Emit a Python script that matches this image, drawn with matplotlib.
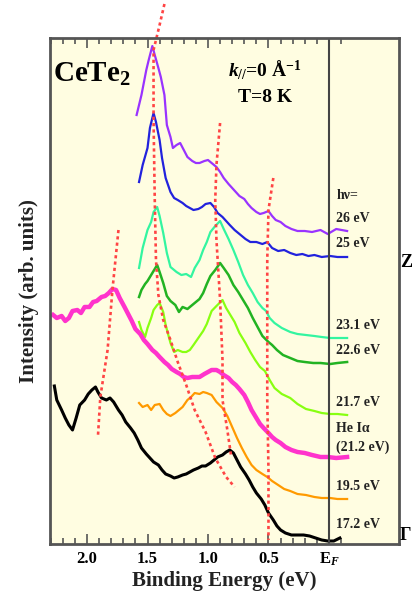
import matplotlib
matplotlib.use("Agg")
import matplotlib.pyplot as plt
from matplotlib.ticker import FixedLocator

plt.rcParams['font.family'] = ['Liberation Serif', 'DejaVu Serif']
plt.rcParams['font.weight'] = 'bold'
plt.rcParams['mathtext.fontset'] = 'custom'
plt.rcParams['mathtext.rm'] = 'Liberation Serif:bold'
plt.rcParams['mathtext.it'] = 'Liberation Serif:italic:bold'
plt.rcParams['mathtext.bf'] = 'Liberation Serif:bold'

# ---- spectra: binding energy (eV) and intensity (arb. units, offset) ----
be_26 = [1.59, 1.55, 1.51, 1.49, 1.46, 1.44, 1.41, 1.39, 1.36, 1.34, 1.31, 1.29, 1.26, 1.23, 1.20,
         1.17, 1.13, 1.10, 1.07, 1.03, 1.00, 0.97, 0.93, 0.90, 0.87, 0.83, 0.80, 0.77, 0.74, 0.70,
         0.67, 0.64, 0.60, 0.57, 0.54, 0.50, 0.47, 0.44, 0.40, 0.36, 0.31, 0.26, 0.20, 0.14, 0.07,
         0.01, -0.06, -0.15]
int_26 = [429, 449, 474, 484, 498, 489, 476, 467, 449, 419, 407, 396, 399, 401, 394,
          387, 383, 381, 381, 383, 384, 381, 377, 372, 366, 360, 356, 352, 348, 345,
          340, 336, 332, 330, 331, 333, 328, 324, 322, 318, 315, 313, 313, 312, 314,
          310, 315, 313]

be_25 = [1.57, 1.54, 1.50, 1.48, 1.45, 1.43, 1.40, 1.38, 1.35, 1.31, 1.28, 1.25, 1.21, 1.18, 1.15,
         1.12, 1.08, 1.05, 1.02, 0.98, 0.95, 0.92, 0.88, 0.85, 0.82, 0.78, 0.74, 0.69, 0.65, 0.60,
         0.55, 0.51, 0.47, 0.42, 0.37, 0.32, 0.27, 0.22, 0.17, 0.12, 0.06, -0.01, -0.07, -0.15]
int_25 = [362, 379, 396, 416, 431, 422, 404, 386, 366, 352, 346, 344, 341, 338, 336,
          334, 335, 337, 340, 341, 337, 331, 327, 323, 319, 314, 310, 305, 302, 302,
          300, 302, 296, 293, 294, 291, 289, 290, 288, 289, 287, 288, 287, 287]

be_231 = [1.57, 1.54, 1.50, 1.47, 1.45, 1.42, 1.40, 1.37, 1.34, 1.31, 1.26, 1.22, 1.18, 1.14, 1.11,
          1.07, 1.04, 1.01, 0.98, 0.94, 0.90, 0.87, 0.83, 0.79, 0.75, 0.71, 0.67, 0.63, 0.59, 0.55,
          0.52, 0.49, 0.45, 0.39, 0.32, 0.26, 0.19, 0.12, 0.06, -0.01, -0.07, -0.15]
int_231 = [276, 296, 314, 322, 332, 337, 328, 311, 291, 277, 272, 269, 270, 267, 276,
           284, 294, 302, 312, 318, 323, 315, 305, 294, 282, 269, 259, 251, 242, 236,
           233, 226, 221, 216, 212, 210, 209, 208, 207, 206, 206, 206]

be_226 = [1.57, 1.55, 1.52, 1.50, 1.47, 1.45, 1.42, 1.40, 1.37, 1.34, 1.31, 1.27, 1.24, 1.21, 1.17,
          1.14, 1.11, 1.07, 1.04, 1.01, 0.98, 0.94, 0.90, 0.87, 0.83, 0.79, 0.75, 0.71, 0.67, 0.63,
          0.59, 0.55, 0.50, 0.47, 0.43, 0.38, 0.32, 0.26, 0.20, 0.13, 0.07, -0.01, -0.07, -0.15]
int_226 = [247, 254, 260, 263, 269, 273, 279, 272, 261, 248, 243, 239, 232, 237, 235,
           238, 241, 245, 251, 260, 268, 274, 281, 276, 269, 259, 252, 244, 236, 226,
           217, 208, 202, 199, 194, 189, 186, 183, 182, 181, 181, 180, 181, 182]

be_217 = [1.57, 1.55, 1.52, 1.50, 1.47, 1.45, 1.42, 1.40, 1.37, 1.35, 1.31, 1.28, 1.25, 1.21, 1.18,
          1.15, 1.12, 1.08, 1.04, 1.01, 0.97, 0.93, 0.88, 0.85, 0.82, 0.78, 0.74, 0.69, 0.65, 0.61,
          0.57, 0.53, 0.49, 0.45, 0.39, 0.32, 0.26, 0.19, 0.12, 0.06, -0.01, -0.07, -0.15]
int_217 = [222, 214, 207, 216, 226, 234, 239, 241, 232, 219, 201, 192, 194, 192, 192,
           194, 199, 206, 213, 220, 233, 238, 244, 236, 230, 222, 211, 201, 192, 184,
           177, 173, 164, 156, 150, 146, 140, 135, 133, 131, 130, 130, 129]

be_hei = [2.28, 2.25, 2.21, 2.18, 2.15, 2.12, 2.08, 2.05, 2.02, 1.98, 1.95, 1.92, 1.88, 1.85, 1.82,
          1.79, 1.76, 1.73, 1.69, 1.66, 1.63, 1.60, 1.56, 1.53, 1.50, 1.46, 1.43, 1.40, 1.36, 1.33,
          1.30, 1.26, 1.23, 1.20, 1.17, 1.13, 1.10, 1.07, 1.03, 1.00, 0.97, 0.93, 0.90, 0.87, 0.83,
          0.80, 0.77, 0.74, 0.70, 0.67, 0.64, 0.60, 0.57, 0.54, 0.50, 0.47, 0.44, 0.40, 0.36, 0.31,
          0.26, 0.20, 0.14, 0.07, 0.01, -0.06, -0.15]
int_hei = [229, 226, 228, 223, 226, 233, 234, 231, 237, 237, 242, 243, 247, 248, 251,
           255, 254, 246, 237, 230, 223, 215, 210, 204, 200, 194, 191, 187, 182, 179,
           175, 172, 170, 167, 166, 167, 167, 167, 170, 172, 174, 174, 172, 169, 166,
           162, 159, 155, 149, 142, 134, 126, 120, 116, 111, 107, 104, 101, 97, 94,
           92, 91, 89, 87, 87, 86, 87]

be_195 = [1.57, 1.54, 1.50, 1.47, 1.44, 1.40, 1.37, 1.34, 1.31, 1.27, 1.24, 1.21, 1.17, 1.14, 1.11,
          1.07, 1.04, 1.01, 0.97, 0.93, 0.88, 0.84, 0.80, 0.76, 0.72, 0.68, 0.64, 0.60, 0.55, 0.51,
          0.47, 0.42, 0.37, 0.32, 0.26, 0.19, 0.12, 0.06, -0.01, -0.07, -0.15]
int_195 = [141, 137, 139, 134, 139, 140, 134, 130, 128, 131, 134, 137, 144, 147, 151,
           150, 152, 151, 149, 142, 136, 128, 117, 106, 96, 87, 79, 74, 70, 67,
           63, 59, 55, 53, 50, 49, 47, 46, 46, 45, 45]

be_172 = [2.27, 2.25, 2.21, 2.18, 2.15, 2.12, 2.09, 2.06, 2.02, 1.99, 1.96, 1.93, 1.91, 1.88, 1.84,
          1.81, 1.78, 1.74, 1.71, 1.68, 1.64, 1.61, 1.58, 1.55, 1.51, 1.48, 1.45, 1.41, 1.38, 1.35,
          1.31, 1.28, 1.25, 1.21, 1.18, 1.15, 1.12, 1.08, 1.05, 1.02, 0.98, 0.95, 0.92, 0.88, 0.85,
          0.82, 0.79, 0.76, 0.73, 0.69, 0.66, 0.63, 0.60, 0.56, 0.53, 0.50, 0.46, 0.43, 0.40, 0.36,
          0.31, 0.26, 0.21, 0.16, 0.11, 0.06, 0.01, -0.04, -0.09]
int_172 = [158, 144, 134, 126, 119, 114, 126, 139, 144, 150, 154, 157, 152, 146, 144,
           146, 142, 134, 129, 122, 116, 111, 104, 96, 90, 86, 82, 79, 74, 70,
           68, 66, 67, 69, 70, 72, 74, 76, 78, 78, 81, 84, 87, 89, 92,
           94, 91, 84, 77, 70, 64, 57, 51, 45, 39, 31, 24, 18, 14, 11,
           9, 9, 9, 8, 6, 4, 3, 3, 6]

# dispersion guides
guide_a_be = [1.36, 1.40, 1.45, 1.45, 1.44, 1.43, 1.41, 1.37, 1.31, 1.25, 1.18, 1.11, 1.02, 0.94, 0.85, 0.78]
guide_a_int = [540, 519, 494, 424, 344, 284, 249, 224, 204, 182, 159, 134, 112, 86, 67, 57]
guide_b_be = [0.90, 0.93, 0.94, 0.93, 0.90, 0.88, 0.88, 0.84, 0.81]
guide_b_int = [421, 379, 344, 304, 244, 184, 144, 114, 89]
guide_c_be = [0.46, 0.50, 0.51, 0.51, 0.50, 0.50]
guide_c_int = [366, 334, 284, 144, 74, 4]
guide_d_be = [1.74, 1.79, 1.83, 1.89, 1.91]
guide_d_int = [314, 254, 194, 147, 107]

spectra = [
    (be_26, int_26, "#9933FF", 1.6),
    (be_25, int_25, "#2222DD", 1.6),
    (be_231, int_231, "#33F5A0", 1.6),
    (be_226, int_226, "#22B322", 1.8),
    (be_217, int_217, "#88FF11", 1.6),
    (be_hei, int_hei, "#FF33CC", 3.2),
    (be_195, int_195, "#FF9A00", 1.6),
    (be_172, int_172, "black", 2.2),
]

hv_labels = ["26 eV", "25 eV", "23.1 eV", "22.6 eV", "21.7 eV", "He I\u03b1", "(21.2 eV)", "19.5 eV", "17.2 eV"]
hv_label_int = [326, 301, 219, 193, 142, 116, 97, 57, 19]

fig = plt.figure(figsize=(4.14, 5.93), dpi=100)
ax = fig.add_axes([50 / 414, 49 / 593, 349 / 414, 506 / 593])
ax.set_facecolor("#FFFDE1")

for be, inten, col, lw in spectra:
    ax.plot(be, inten, color=col, lw=lw, solid_joinstyle="round")

dash = dict(color="#FF4444", lw=1.9, ls=(0, (1.2, 1.2)))
ax.plot(guide_a_be, guide_a_int, clip_on=False, **dash)
ax.plot(guide_b_be, guide_b_int, **dash)
ax.plot(guide_c_be, guide_c_int, **dash)
ax.plot(guide_d_be, guide_d_int, **dash)

# Fermi level
ax.axvline(0, color="#444444", lw=1.5)

ax.set_xlim(2.306, -0.579)
ax.set_ylim(0, 506)

ax.xaxis.set_major_locator(FixedLocator([2.0, 1.5, 1.0, 0.5, 0.0]))
ax.xaxis.set_minor_locator(FixedLocator([i / 10 for i in range(-1, 24)]))
ax.set_xticklabels(["2.0", "1.5", "1.0", "0.5", "E$_F$"])
ax.tick_params(axis="x", which="both", direction="in", top=True, bottom=True,
               color="#555555", labelsize=12, pad=5)
ax.tick_params(axis="x", which="major", length=7, width=1.2)
ax.tick_params(axis="x", which="minor", length=4, width=1.2)
ax.set_yticks([])

for s in ax.spines.values():
    s.set_color("#555555")
    s.set_linewidth(2)

ax.set_xlabel("Binding Energy (eV)", fontsize=15, fontweight="bold", labelpad=2, color="#222222")
ax.set_ylabel("Intensity (arb. units)", fontsize=15, fontweight="bold", labelpad=8, color="#222222")

ax.text(2.28, 470, "CeTe$_2$", fontsize=21, ha="left", va="center")
ax.text(0.53, 474, "$\\mathit{k}_{//}$=0 \u00c5$^{-1}$", fontsize=14, ha="center", va="center")
ax.text(0.53, 447, "T=8 K", fontsize=14, ha="center", va="center")

ax.text(-0.06, 349, "h\u03bd=", fontsize=10, ha="left", va="center", color="#222222")
for lab, y in zip(hv_labels, hv_label_int):
    ax.text(-0.06, y, lab, fontsize=10, ha="left", va="center", color="#222222")

# symmetry-point labels just outside the frame
ax.text(-0.585, 282, "Z", fontsize=13, ha="left", va="center", clip_on=False)
ax.text(-0.585, 8, "\u0393", fontsize=13, ha="left", va="center", clip_on=False)

fig.savefig("out.png", dpi=100)
